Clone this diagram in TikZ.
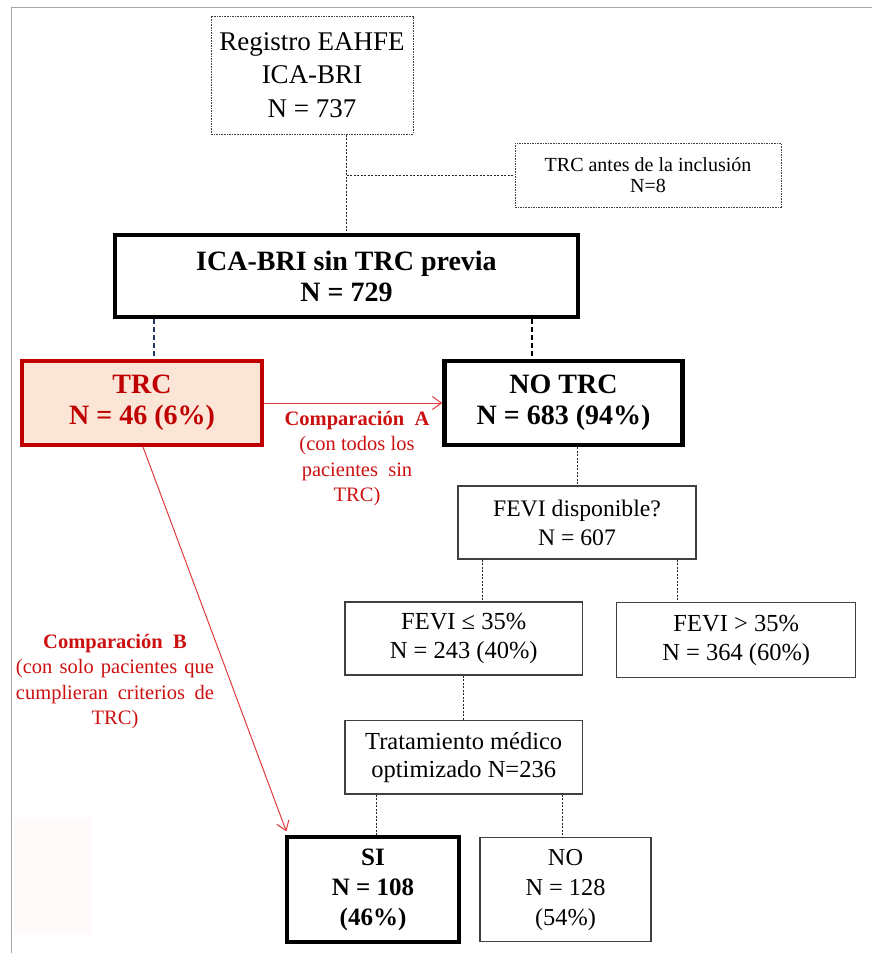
\documentclass[tikz,border=0pt]{standalone}
\usepackage{fontspec}
\setmainfont{Liberation Serif}
\usetikzlibrary{arrows.meta,calc}
\definecolor{darkred}{HTML}{C00000}
\definecolor{labelred}{HTML}{CC1010}
\definecolor{arrowred}{HTML}{E03A3E}
\definecolor{trcfill}{HTML}{FBE5D6}
\definecolor{boxgray}{HTML}{404040}
\definecolor{framegray}{HTML}{A6A6A6}
\definecolor{navyd}{HTML}{1F3864}
\definecolor{faintpink}{HTML}{FFFAF9}
\newcommand{\fsz}[2]{\fontsize{#1pt}{#2pt}\selectfont}
\tikzset{
  thinbox/.style={draw=boxgray, line width=1.3pt, align=center, inner sep=0pt, font=\fsz{24.5}{29}},
  dotbox/.style={draw=boxgray, line width=1pt, dash pattern=on 1.6pt off 1pt, align=center, inner sep=0pt},
  heavybox/.style={draw=black, line width=4.5pt, align=center, inner sep=0pt, font=\bfseries\fsz{28}{31}},
  redbox/.style={draw=darkred, fill=trcfill, line width=4pt, align=center, inner sep=0pt, text=darkred, font=\bfseries\fsz{28}{31}},
  conn/.style={draw=black!85, line width=1pt, dash pattern=on 2pt off 1.5pt},
  thickdash/.style={line width=2.5pt, dash pattern=on 5pt off 3pt},
  redarrow/.style={draw=arrowred, line width=1pt, -{Straight Barb[length=9pt,width=13pt]}},
  redlabel/.style={align=center, inner sep=0pt, text=labelred, font=\fsz{20.5}{25.5}, anchor=north}
}
\begin{document}
\begin{tikzpicture}[x=1pt,y=-1pt]
\useasboundingbox (0,0) rectangle (872,953);
% frame
\draw[framegray, line width=1pt] (872,7) -- (11,7) -- (11,953);
\fill[faintpink] (14,817) rectangle (92,935);

% nodes
\node[dotbox, minimum width=202pt, minimum height=118pt, font=\fsz{27}{33.7}] (reg) at (312,75)
  {\raisebox{-3pt}{Registro EAHFE}\\\raisebox{-3pt}{ICA-BRI}\\\raisebox{-3pt}{N = 737}};
\node[dotbox, minimum width=266pt, minimum height=64pt, font=\fsz{20}{21}] (antes) at (648,175)
  {TRC antes de la inclusión\\N=8};
\node[heavybox, minimum width=463pt, minimum height=82pt] (sin) at (346.5,276)
  {\raisebox{-3pt}{ICA-BRI sin TRC previa}\\\raisebox{-3pt}{N = 729}};
\node[redbox, minimum width=240pt, minimum height=84pt] (trc) at (142,403)
  {TRC\\N = 46 (6\%)};
\node[heavybox, minimum width=238pt, minimum height=84pt] (notrc) at (563.5,403)
  {NO TRC\\N = 683 (94\%)};
\node[thinbox, minimum width=238pt, minimum height=73pt, font=\fsz{23.7}{29}] (fevi) at (577,522.5)
  {FEVI disponible?\\N = 607};
\node[thinbox, minimum width=237.5pt, minimum height=73pt] (le) at (463.7,638.5)
  {FEVI ≤ 35\%\\N = 243 (40\%)};
\node[thinbox, minimum width=239pt, minimum height=74.6pt] (gt) at (736.2,640)
  {FEVI > 35\%\\N = 364 (60\%)};
\node[thinbox, minimum width=237.3pt, minimum height=73.3pt, font=\fsz{24.5}{28.3}] (trat) at (463.7,757.3)
  {\makebox[197pt][s]{Tratamiento médico}\\optimizado N=236};
\node[heavybox, line width=4pt, minimum width=172.6pt, minimum height=105pt, font=\bfseries\fsz{25}{30}] (si) at (373,889.8)
  {SI\\N = 108\\(46\%)};
\node[thinbox, minimum width=171pt, minimum height=104pt, font=\fsz{24.3}{30}] (no) at (565.5,889.7)
  {NO\\N = 128\\(54\%)};

% labels
\node[redlabel] (compA) at (357,411)
  {{\bfseries Comparación\ \ A}\\(con todos los\\pacientes\ \ sin\\TRC)};
\node[redlabel] (compB) at (115,634)
  {{\bfseries Comparación\ \ B}\\\makebox[198pt][s]{(con solo pacientes que}\\\makebox[198pt][s]{cumplieran criterios de}\\TRC)};

% connectors
\draw[conn] (reg.south -| sin.north) -- (sin.north);
\draw[conn] (antes.west -| sin.north) -- (antes.west);
\draw[thickdash, navyd] ([xshift=12pt]trc.north |- sin.south) -- ([xshift=12pt]trc.north);
\draw[thickdash, black] ([xshift=-31.5pt]notrc.north |- sin.south) -- ([xshift=-31.5pt]notrc.north);
\draw[conn] (fevi.north |- notrc.south) -- (fevi.north);
\draw[conn] ([xshift=18.6pt]le.north |- fevi.south) -- ([xshift=18.6pt]le.north);
\draw[conn] ([xshift=-58.5pt]gt.north |- fevi.south) -- ([xshift=-58.5pt]gt.north);
\draw[conn] (le.south) -- (trat.north);
\draw[conn] ([xshift=3.7pt]si.north |- trat.south) -- ([xshift=3.7pt]si.north);
\draw[conn] ([xshift=-3.2pt]no.north |- trat.south) -- ([xshift=-3.2pt]no.north);

% comparison arrows
\draw[redarrow] (trc.east) -- (notrc.west);
\draw[redarrow] ([xshift=1pt]trc.south) -- ([shift={(1.6pt,4pt)}]si.north west);
\end{tikzpicture}
\end{document}
